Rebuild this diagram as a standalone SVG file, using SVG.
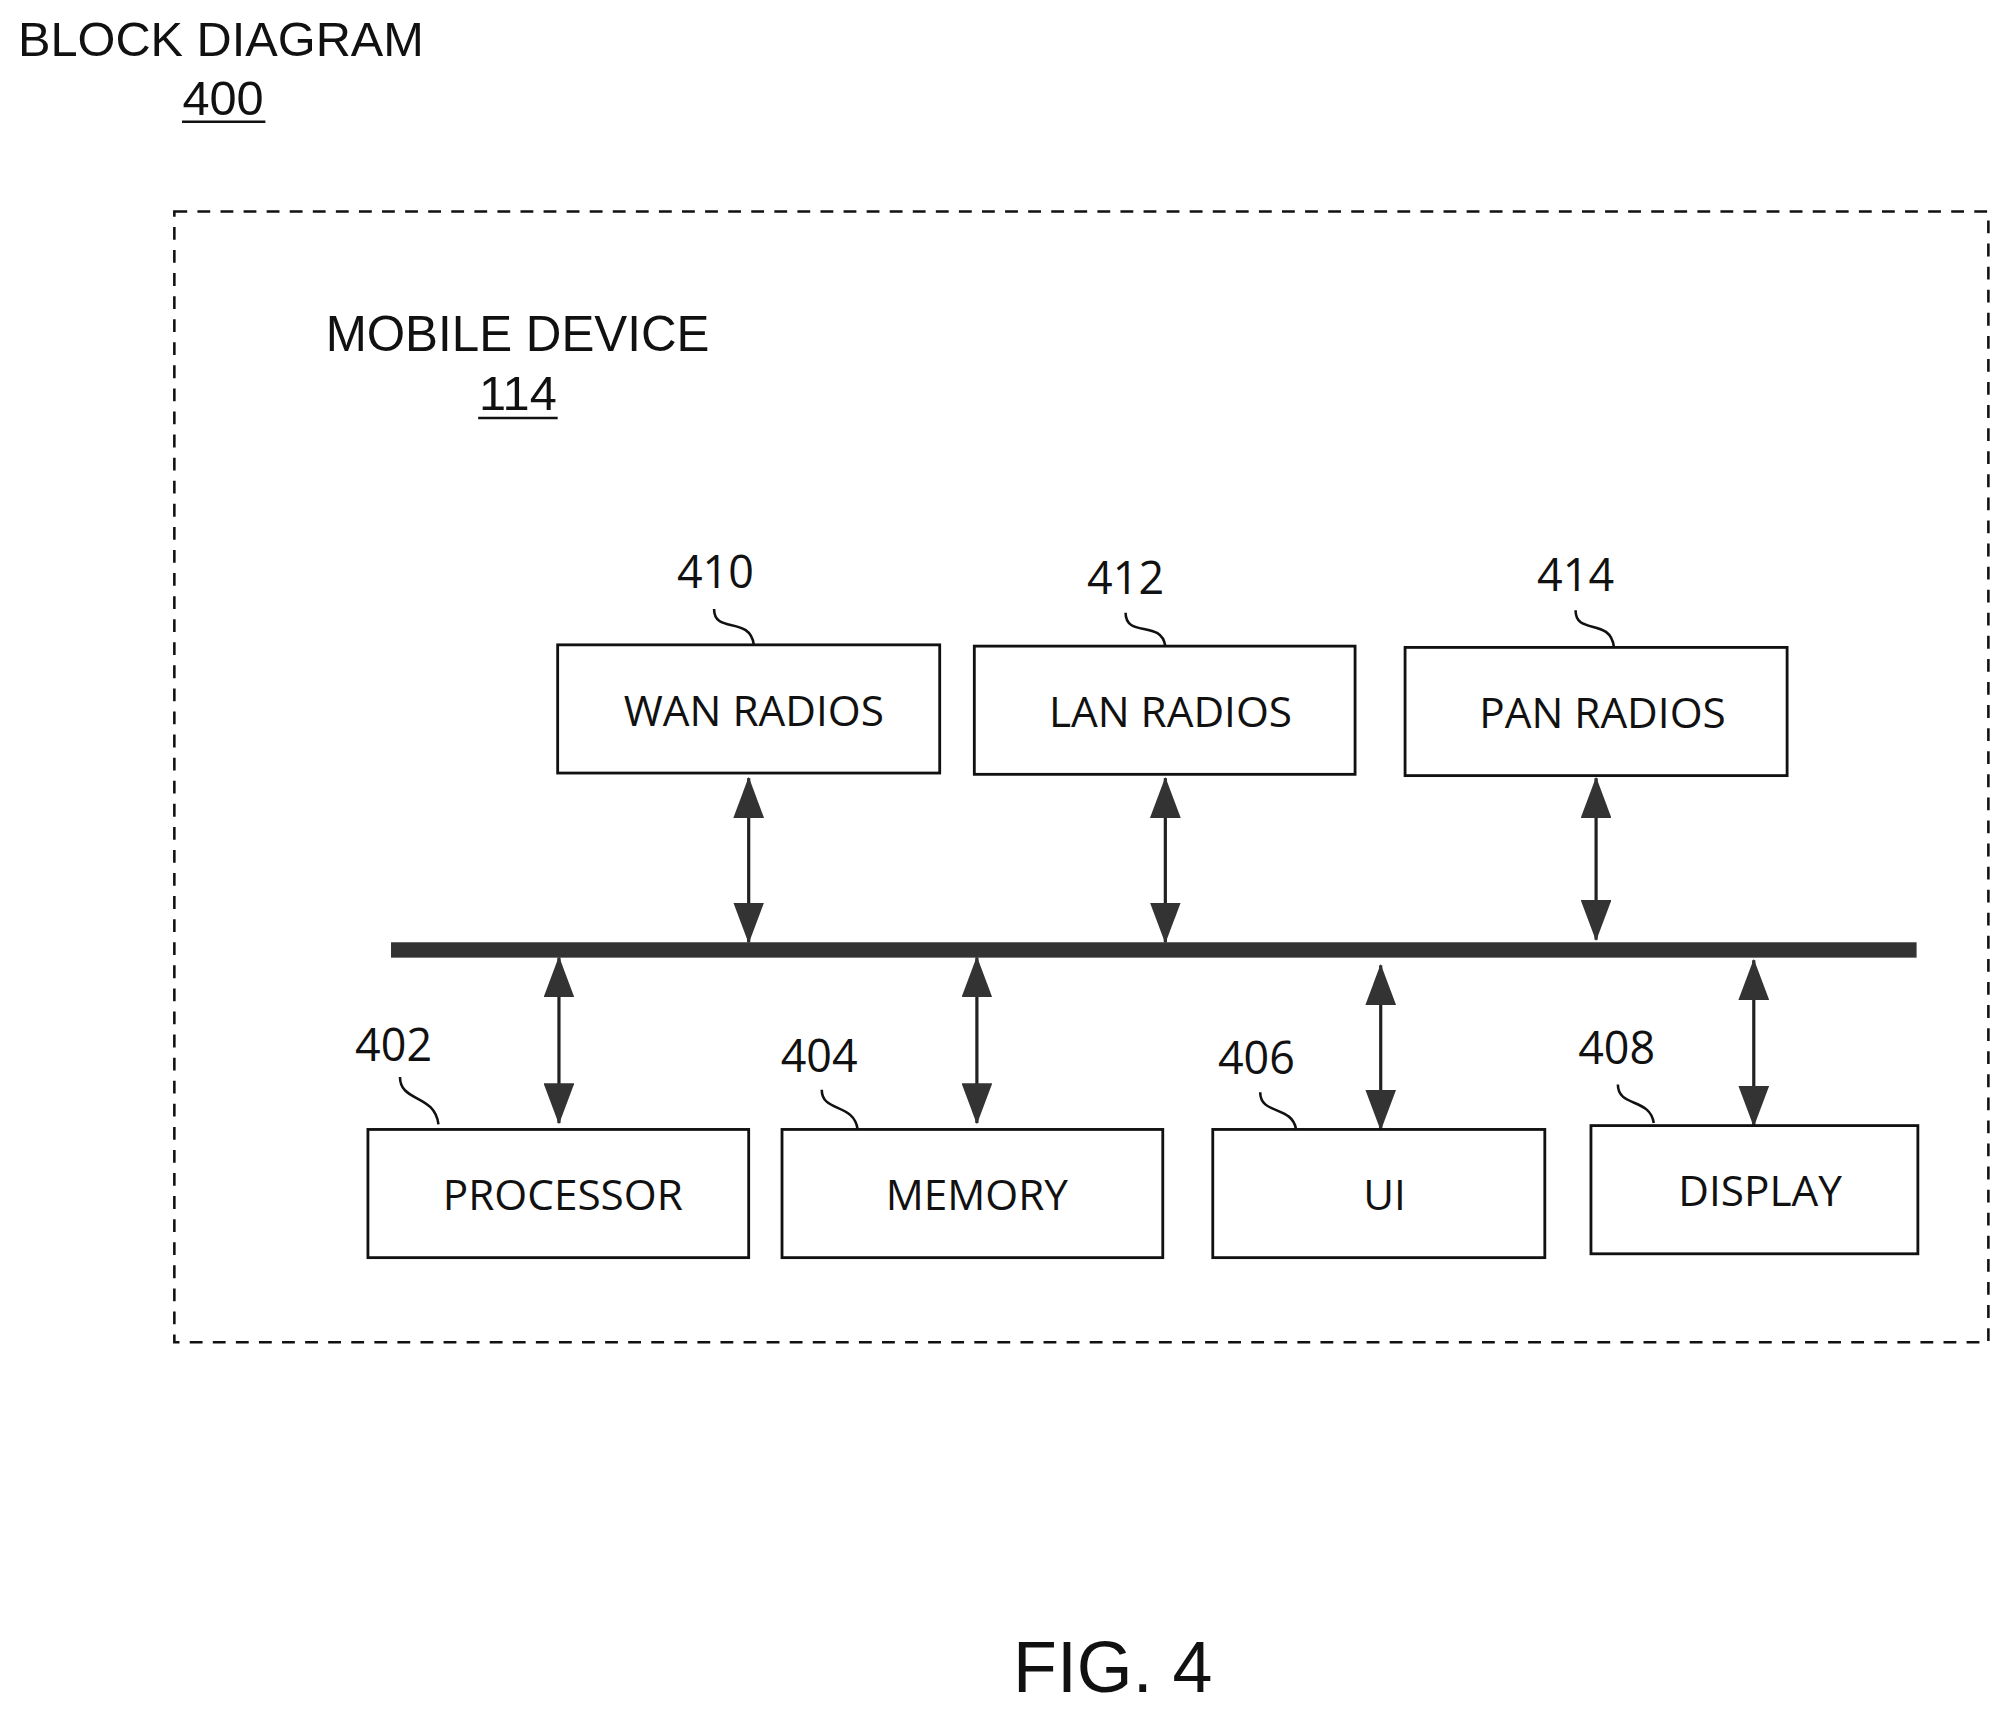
<svg xmlns="http://www.w3.org/2000/svg" width="2010" height="1717" viewBox="0 0 2010 1717">
<style>
.t{font-family:"Liberation Sans",Arial,sans-serif;fill:#111}
.b{font-family:"Open Sans","Noto Sans",sans-serif;font-size:33px;fill:#111;text-anchor:middle}
.n{font-family:"Open Sans","Noto Sans",sans-serif;font-size:35px;fill:#111;text-anchor:middle}
.box{fill:#fff;stroke:#111;stroke-width:2.2}
.lead{fill:none;stroke:#111;stroke-width:2}
.ar{stroke:#222;stroke-width:2.5;marker-start:url(#ah);marker-end:url(#ah)}
</style>
<defs>
<marker id="ah" markerUnits="userSpaceOnUse" markerWidth="32" markerHeight="24" refX="31" refY="12" orient="auto-start-reverse" viewBox="0 0 32 24"><path d="M0,0 L32,12 L0,24 Z" fill="#333"/></marker>
</defs>
<rect width="2010" height="1717" fill="#fff"/>
<g transform="scale(1.282)">
<g id="title"><text class="t" x="14" y="44" font-size="38">BLOCK DIAGRAM</text>
<text class="t" x="174" y="90" font-size="38" text-anchor="middle">400</text><line x1="142" y1="95" x2="207" y2="95" stroke="#111" stroke-width="2"/></g>
<g id="mobile"><rect x="136" y="165" width="1415" height="882" fill="none" stroke="#111" stroke-width="2" stroke-dasharray="10,8"/>
<text class="t" x="254" y="274" font-size="38.5">MOBILE DEVICE</text>
<text class="t" x="404" y="320" font-size="38" text-anchor="middle">114</text><line x1="373" y1="326" x2="435" y2="326" stroke="#111" stroke-width="2"/></g>
<g id="connectors">
<rect x="305" y="735" width="1190" height="12" fill="#333"/>
<line class="ar" x1="584" y1="607" x2="584" y2="735"/>
<line class="ar" x1="909" y1="607" x2="909" y2="735"/>
<line class="ar" x1="1245" y1="607" x2="1245" y2="733"/>
<line class="ar" x1="436" y1="747" x2="436" y2="876"/>
<line class="ar" x1="762" y1="747" x2="762" y2="876"/>
<line class="ar" x1="1077" y1="753" x2="1077" y2="881"/>
<line class="ar" x1="1368" y1="749" x2="1368" y2="878"/>
</g>
<g id="n410"><rect class="box" x="435" y="503" width="298" height="100"/><text class="b" x="588" y="566">WAN RADIOS</text><text class="n" x="558" y="459">410</text><path class="lead" d="M557,475 C557,495 585,480 588,503"/></g>
<g id="n412"><rect class="box" x="760" y="504" width="297" height="100"/><text class="b" x="913" y="567">LAN RADIOS</text><text class="n" x="878" y="463">412</text><path class="lead" d="M878,478 C878,498 906,483 909,504"/></g>
<g id="n414"><rect class="box" x="1096" y="505" width="298" height="100"/><text class="b" x="1250" y="568">PAN RADIOS</text><text class="n" x="1229" y="461">414</text><path class="lead" d="M1229,476 C1229,496 1256,481 1259,505"/></g>
<g id="n402"><rect class="box" x="287" y="881" width="297" height="100"/><text class="b" x="439" y="944">PROCESSOR</text><text class="n" x="307" y="828">402</text><path class="lead" d="M312,840 C312,860 339,853 342,877"/></g>
<g id="n404"><rect class="box" x="610" y="881" width="297" height="100"/><text class="b" x="762" y="944">MEMORY</text><text class="n" x="639" y="836">404</text><path class="lead" d="M641,850 C641,868 666,860 669,881"/></g>
<g id="n406"><rect class="box" x="946" y="881" width="259" height="100"/><text class="b" x="1080" y="944">UI</text><text class="n" x="980" y="838">406</text><path class="lead" d="M983,852 C983,870 1008,862 1011,881"/></g>
<g id="n408"><rect class="box" x="1241" y="878" width="255" height="100"/><text class="b" x="1373" y="941">DISPLAY</text><text class="n" x="1261" y="830">408</text><path class="lead" d="M1262,846 C1262,864 1287,856 1290,876"/></g>
<text class="t" x="868" y="1320" font-size="56" text-anchor="middle">FIG. 4</text>
</g>
</svg>
